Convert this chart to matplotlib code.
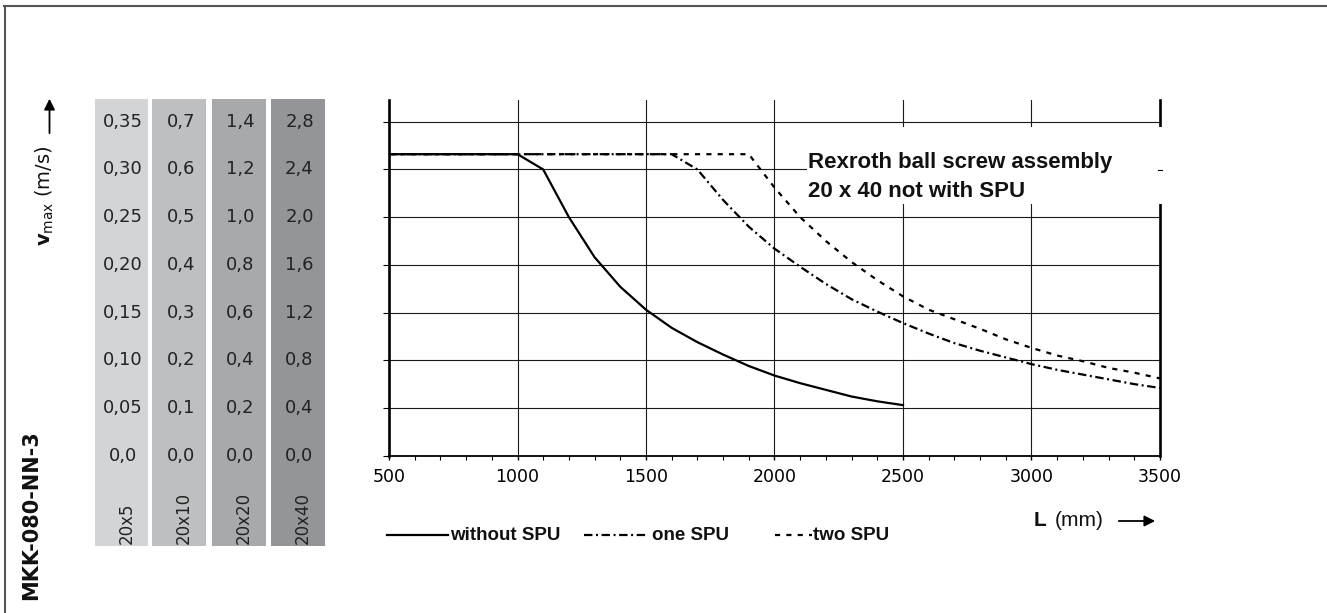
import matplotlib
matplotlib.use("Agg")
import matplotlib.pyplot as plt
from matplotlib.lines import Line2D
from matplotlib.patches import Rectangle, FancyArrowPatch
from matplotlib.transforms import blended_transform_factory
from matplotlib.ticker import MultipleLocator

# ---------------- data ----------------
L_without = [500, 1000, 1100, 1200, 1300, 1400, 1500, 1600, 1700, 1800, 1900,
             2000, 2100, 2200, 2300, 2400, 2500]
v_without = [0.316, 0.316, 0.300, 0.250, 0.208, 0.177, 0.153, 0.134, 0.119, 0.106,
             0.094, 0.084, 0.076, 0.069, 0.062, 0.057, 0.053]

L_one = [500, 1600, 1700, 1800, 1900, 2000, 2100, 2200, 2300, 2400, 2500, 2600,
         2700, 2800, 2900, 3000, 3100, 3200, 3300, 3400, 3500]
v_one = [0.316, 0.316, 0.300, 0.268, 0.240, 0.217, 0.198, 0.180, 0.164, 0.151,
         0.139, 0.128, 0.118, 0.110, 0.103, 0.096, 0.090, 0.085, 0.080, 0.075, 0.071]

L_two = [500, 1900, 2000, 2100, 2200, 2300, 2400, 2500, 2600, 2700, 2800, 2900,
         3000, 3100, 3200, 3300, 3400, 3500]
v_two = [0.316, 0.316, 0.281, 0.250, 0.225, 0.203, 0.184, 0.167, 0.153, 0.143,
         0.133, 0.122, 0.113, 0.105, 0.099, 0.092, 0.087, 0.081]

series_names = ["without SPU", "one SPU", "two SPU"]

x_ticks = [500, 1000, 1500, 2000, 2500, 3000, 3500]
y_grid = [0.0, 0.05, 0.10, 0.15, 0.20, 0.25, 0.30, 0.35]

screw_types = ["20x5", "20x10", "20x20", "20x40"]
scale_labels = [
    ["0,0", "0,05", "0,10", "0,15", "0,20", "0,25", "0,30", "0,35"],
    ["0,0", "0,1", "0,2", "0,3", "0,4", "0,5", "0,6", "0,7"],
    ["0,0", "0,2", "0,4", "0,6", "0,8", "1,0", "1,2", "1,4"],
    ["0,0", "0,4", "0,8", "1,2", "1,6", "2,0", "2,4", "2,8"],
]
band_colors = ["#d3d4d6", "#bebfc1", "#a8a9ab", "#949598"]

# ---------------- layout ----------------
W, H = 1327, 613
fig = plt.figure(figsize=(W / 100, H / 100), dpi=100)
fig.patch.set_facecolor("white")

def fx(px):
    return px / W

def fy(py):
    return 1 - py / H

ax_l, ax_r, ax_t, ax_b = 389, 1160, 100, 455.7
ax = fig.add_axes([fx(ax_l), fy(ax_b), fx(ax_r - ax_l), (ax_b - ax_t) / H])
ax.set_xlim(500, 3500)
ax.set_ylim(0, 0.3728)

lw_curve = 1.6
ls_one = (0, (3.8, 1.6, 0.9, 1.6))
ls_two = (0, (2.3, 2.8))
ax.plot(L_without, v_without, color="black", lw=lw_curve, solid_joinstyle="miter", zorder=4)
ax.plot(L_one, v_one, color="black", lw=lw_curve, linestyle=ls_one, zorder=4)
ax.plot(L_two, v_two, color="black", lw=lw_curve, linestyle=ls_two, zorder=4)

# axes styling
ax.spines["top"].set_visible(False)
ax.spines["left"].set_linewidth(1.9)
ax.spines["right"].set_linewidth(1.9)
ax.spines["bottom"].set_linewidth(1.3)
for s in ["left", "right", "bottom"]:
    ax.spines[s].set_color("black")

ax.set_xticks(x_ticks)
ax.xaxis.set_minor_locator(MultipleLocator(100))
ax.set_xticklabels([str(v) for v in x_ticks], fontsize=12.5, family="DejaVu Sans", color="#111111")
ax.tick_params(axis="x", which="major", direction="out", length=3, width=1.0, pad=5.5, colors="black")
ax.tick_params(axis="x", which="minor", direction="out", length=3, width=0.8, colors="black")
ax.set_yticks(y_grid)
ax.set_yticklabels([])
ax.tick_params(axis="y", which="major", direction="out", length=4.5, width=0.8, colors="black")
ax.tick_params(axis="y", which="minor", length=0)
for v in y_grid[1:]:
    ax.axhline(v, color="#1a1a1a", lw=0.8, zorder=1)
for v in x_ticks[1:-1]:
    ax.axvline(v, color="#1a1a1a", lw=0.8, zorder=1)

# ---------------- speed scale bands ----------------
band_x = [(95, 147.7), (152.3, 206), (211.7, 265.7), (271, 325)]
band_top, band_bot = 99, 546
trans = blended_transform_factory(fig.transFigure, ax.transData)
for (x0, x1), col, labels, name in zip(band_x, band_colors, scale_labels, screw_types):
    fig.add_artist(Rectangle((fx(x0), fy(band_bot)), fx(x1 - x0), (band_bot - band_top) / H,
                             transform=fig.transFigure, facecolor=col, edgecolor="none", zorder=0.5))
    xc = fx((x0 + x1) / 2 + 1.5)
    for lab, yv in zip(labels, y_grid):
        fig.text(xc, yv, lab, transform=trans, ha="center", va="center",
                 fontsize=13, family="DejaVu Sans", color="#222222", zorder=2)
    fig.text(fx((x0 + x1) / 2 + 5), fy(544), name, rotation=90, ha="center", va="bottom",
             fontsize=12, family="DejaVu Sans", color="#222222", zorder=2)

# y label and arrow
fig.text(fx(45), fy(196), r"$\mathbf{v}_{\mathrm{max}}$ (m/s)", rotation=90, ha="center", va="center",
         fontsize=14, color="#111111")
fig.add_artist(FancyArrowPatch((fx(49.5), fy(136)), (fx(49.5), fy(96)), transform=fig.transFigure,
                               arrowstyle="-|>", mutation_scale=16, lw=1.3, color="black"))

# product name
fig.text(fx(31), fy(600), "MKK-080-NN-3", rotation=90, ha="center", va="bottom",
         fontsize=15, fontweight="bold", family="DejaVu Sans", color="#111111")

# x label and arrow
fig.text(fx(1034), fy(520), "L", ha="left", va="center", fontsize=15, fontweight="bold",
         family="Liberation Sans", color="#111111")
fig.text(fx(1055), fy(520), "(mm)", ha="left", va="center", fontsize=15,
         family="Liberation Sans", color="#111111")
fig.add_artist(FancyArrowPatch((fx(1116), fy(521)), (fx(1158), fy(521)), transform=fig.transFigure,
                               arrowstyle="-|>", mutation_scale=16, lw=1.3, color="black"))

# annotation box
fig.add_artist(Rectangle((fx(807), fy(204)), fx(1164 - 807), (204 - 127) / H,
                         transform=fig.transFigure, facecolor="white", edgecolor="none", zorder=5))
fig.text(fx(808), fy(168), "Rexroth ball screw assembly", ha="left", va="baseline",
         fontsize=16, fontweight="bold", family="Liberation Sans", color="#111111", zorder=6)
fig.text(fx(808), fy(197), "20 x 40 not with SPU", ha="left", va="baseline",
         fontsize=16, fontweight="bold", family="Liberation Sans", color="#111111", zorder=6)
# small stub of right axis at the 0.30 level (visible in original)
fig.add_artist(Line2D([fx(1158), fx(1162)], [fy(169.7), fy(169.7)], transform=fig.transFigure,
                      color="black", lw=0.8, zorder=6))

# legend (manual)
leg_y = 535
leg_items = [
    ((387, 448), "-", 450),
    ((584, 647), ls_one, 652),
    ((775, 812), ls_two, 813),
]
for ((x0, x1), ls, tx), name in zip(leg_items, series_names):
    fig.add_artist(Line2D([fx(x0), fx(x1)], [fy(leg_y), fy(leg_y)], transform=fig.transFigure,
                          color="black", lw=lw_curve, linestyle=ls))
    fig.text(fx(tx), fy(leg_y), name, ha="left", va="center", fontsize=13.5, fontweight="bold",
             family="Liberation Sans", color="#111111")

# outer frame
fig.add_artist(Line2D([fx(4.5), fx(4.5)], [fy(6), 0], transform=fig.transFigure, color="#555555", lw=1.5))
fig.add_artist(Line2D([fx(4), 1], [fy(6), fy(6)], transform=fig.transFigure, color="#555555", lw=1.5))

fig.savefig("out.png", dpi=100)
